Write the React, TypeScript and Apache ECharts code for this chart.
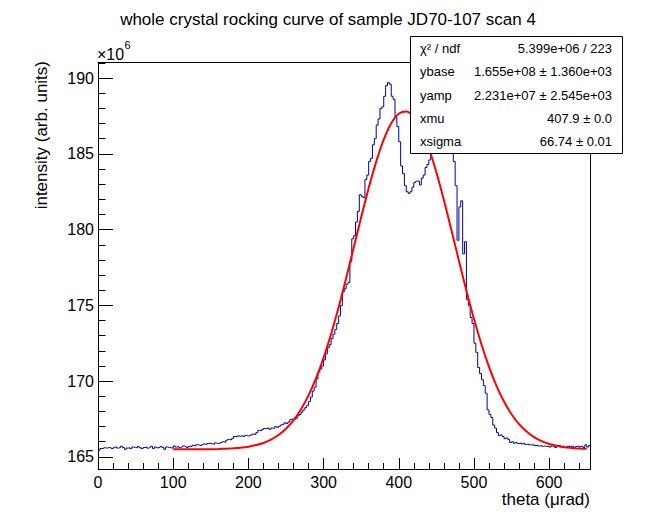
import { useEffect, useRef } from 'react'
import * as echarts from 'echarts'

const FONT = '"Liberation Sans", Arial, Helvetica, sans-serif'

// histogram: bins of 2.5 urad starting at 0, contents in units of 10^6
const binStart = 0
const binWidth = 2.5
const counts = [
  165.42, 165.55, 165.55, 165.60, 165.58, 165.62, 165.60, 165.55, 165.60, 165.65,
  165.58, 165.62, 165.70, 165.62, 165.50, 165.58, 165.60, 165.55, 165.65, 165.62,
  165.60, 165.68, 165.60, 165.55, 165.62, 165.65, 165.58, 165.62, 165.70, 165.55,
  165.65, 165.60, 165.62, 165.68, 165.62, 165.50, 165.65, 165.62, 165.60, 165.58,
  165.72, 165.65, 165.68, 165.62, 165.66, 165.72, 165.68, 165.62, 165.70, 165.68,
  165.76, 165.72, 165.80, 165.78, 165.74, 165.80, 165.85, 165.82, 165.88, 165.90,
  165.86, 165.84, 165.92, 165.88, 165.90, 165.95, 166.00, 165.96, 166.10, 166.15,
  166.12, 166.20, 166.35, 166.32, 166.38, 166.36, 166.40, 166.35, 166.42, 166.38,
  166.40, 166.45, 166.50, 166.48, 166.60, 166.75, 166.72, 166.80, 166.88, 166.85,
  166.90, 166.82, 166.90, 166.88, 167.00, 166.95, 167.02, 167.10, 167.15, 167.25,
  167.20, 167.30, 167.45, 167.50, 167.48, 167.55, 167.72, 167.80, 167.95, 168.10,
  168.25, 168.40, 168.65, 168.95, 169.35, 169.60, 170.15, 170.60, 170.80, 171.00,
  171.40, 171.80, 172.20, 172.40, 172.80, 173.10, 173.40, 173.80, 174.30, 175.00,
  175.90, 176.10, 176.40, 176.50, 177.90, 179.40, 179.60, 180.50, 181.20, 182.30,
  182.20, 182.10, 183.30, 183.60, 184.50, 184.70, 185.60, 186.00, 186.90, 187.30,
  188.00, 188.10, 188.80, 189.50, 189.70, 189.60, 188.80, 188.60, 187.40, 186.80,
  185.80, 184.20, 183.70, 182.90, 182.50, 182.40, 182.50, 182.80, 183.10, 183.20,
  183.20, 182.95, 183.40, 183.60, 184.10, 184.30, 184.60, 185.20, 185.80, 186.20,
  186.60, 186.90, 187.20, 187.40, 187.50, 187.30, 187.00, 186.60, 186.00, 184.50,
  182.90, 179.30, 181.50, 181.90, 178.40, 179.20, 175.40, 175.00, 174.20, 173.80,
  172.50, 171.90, 170.90, 170.50, 170.10, 169.70, 169.20, 168.10, 167.80, 167.60,
  167.10, 166.90, 166.60, 166.40, 166.45, 166.35, 166.20, 166.25, 166.15, 165.95,
  166.00, 165.90, 165.95, 165.88, 165.92, 165.85, 165.90, 165.82, 165.85, 165.80,
  165.78, 165.80, 165.75, 165.78, 165.72, 165.75, 165.70, 165.72, 165.68, 165.70,
  165.65, 165.72, 165.68, 165.62, 165.70, 165.75, 165.65, 165.70, 165.62, 165.68,
  165.72, 165.65, 165.70, 165.60, 165.68, 165.72, 165.65, 165.70, 165.62, 165.80,
  165.65, 165.75,
]

// fitted gaussian
const fitX = [
  100, 110, 120, 130, 140, 150, 160, 170, 180, 190,
  200, 210, 220, 230, 240, 250, 260, 270, 280, 290,
  300, 310, 320, 330, 340, 350, 360, 370, 380, 390,
  400, 410, 420, 430, 440, 450, 460, 470, 480, 490,
  500, 510, 520, 530, 540, 550, 560, 570, 580, 590,
  600, 610, 620, 630, 640, 650,
]
const fitY = [
  165.50, 165.50, 165.50, 165.50, 165.51, 165.51, 165.52, 165.54, 165.57, 165.61,
  165.67, 165.78, 165.92, 166.14, 166.44, 166.86, 167.41, 168.14, 169.06, 170.19,
  171.54, 173.11, 174.87, 176.79, 178.80, 180.81, 182.75, 184.49, 185.94, 187.02,
  187.65, 187.80, 187.45, 186.62, 185.37, 183.79, 181.95, 179.97, 177.95, 175.97,
  174.11, 172.42, 170.94, 169.69, 168.65, 167.81, 167.16, 166.67, 166.30, 166.04,
  165.85, 165.73, 165.64, 165.59, 165.55, 165.53,
]

const statLabels = ['χ² / ndf', 'ybase', 'yamp', 'xmu', 'xsigma']
const statValues = [
  '5.399e+06 / 223',
  '1.655e+08 ± 1.360e+03',
  '2.231e+07 ± 2.545e+03',
  '407.9 ± 0.0',
  '66.74 ± 0.01',
]

const title = 'whole crystal rocking curve of sample JD70-107 scan 4'
const xTitle = 'theta (μrad)'
const yTitle = 'intensity (arb. units)'

const xMin = 0
const xMax = 655
const yMin = 164.2
const yMax = 191.03

function txt(text: string, x: number, y: number, size: number, align = 'left', extra: any = {}) {
  return {
    type: 'text',
    x,
    y,
    z: 110,
    silent: true,
    ...extra,
    style: {
      text,
      font: `${size}px ${FONT}`,
      fill: '#000',
      textAlign: align,
      textVerticalAlign: 'middle',
    },
  }
}

export default function App() {
  const chartRef = useRef<HTMLDivElement>(null)

  useEffect(() => {
    document.body.style.margin = '0'
    if (!chartRef.current) return
    const chart = echarts.init(chartRef.current, null, { renderer: 'svg' })

    const histData = counts.map((v, i) => [binStart + i * binWidth, v])
    histData.push([binStart + counts.length * binWidth, counts[counts.length - 1]])
    const fitData = fitX.map((x, i) => [x, fitY[i]])

    const line = { show: true, onZero: false, lineStyle: { color: '#000', width: 1 } }
    const tick = (length: number) => ({
      show: true,
      inside: true,
      length,
      lineStyle: { color: '#000', width: 1 },
    })
    const frameOnly = {
      axisLine: line,
      axisTick: { show: false },
      axisLabel: { show: false },
      splitLine: { show: false },
    }

    const boxTop = 36.5
    const rowH = 23.4
    const stats: any[] = []
    statLabels.forEach((s, i) => {
      stats.push(txt(s, 420, boxTop + rowH * (i + 0.5), 13))
      stats.push(txt(statValues[i], 612, boxTop + rowH * (i + 0.5), 13, 'right'))
    })

    chart.setOption({
      animation: false,
      backgroundColor: '#fff',
      textStyle: { fontFamily: FONT },
      grid: {
        left: 98,
        right: 65.5,
        top: 62.5,
        bottom: 53,
        show: false,
        containLabel: false,
        outerBoundsMode: 'none',
      },
      xAxis: [
        {
          type: 'value',
          position: 'bottom',
          min: xMin,
          max: xMax,
          interval: 100,
          axisLine: line,
          axisTick: tick(11),
          minorTick: { show: false },
          axisLabel: { color: '#000', fontSize: 16, fontFamily: FONT, margin: 5, showMaxLabel: false },
          splitLine: { show: false },
        },
        {
          // minor ticks every 20
          type: 'value',
          position: 'bottom',
          min: xMin,
          max: xMax,
          interval: 20,
          axisLine: { show: false },
          axisTick: tick(6),
          axisLabel: { show: false },
          splitLine: { show: false },
        },
        { type: 'value', position: 'top', min: xMin, max: xMax, ...frameOnly },
      ],
      yAxis: [
        {
          type: 'value',
          position: 'left',
          min: yMin,
          max: yMax,
          splitNumber: 5,
          axisLine: line,
          axisTick: tick(15),
          axisLabel: {
            color: '#000',
            fontSize: 16,
            fontFamily: FONT,
            margin: 4,
            showMinLabel: false,
            showMaxLabel: false,
          },
          splitLine: { show: false },
        },
        {
          // minor ticks every 1
          type: 'value',
          position: 'left',
          min: yMin,
          max: yMax,
          splitNumber: 27,
          axisLine: { show: false },
          axisTick: tick(7.5),
          axisLabel: { show: false },
          splitLine: { show: false },
        },
        { type: 'value', position: 'right', min: yMin, max: yMax, ...frameOnly },
      ],
      series: [
        {
          name: 'data',
          type: 'line',
          xAxisIndex: 0,
          yAxisIndex: 0,
          step: 'end',
          symbol: 'none',
          silent: true,
          z: 10,
          lineStyle: { color: '#000099', width: 1 },
          itemStyle: { color: '#000099' },
          data: histData,
        },
        {
          name: 'fit',
          type: 'line',
          xAxisIndex: 0,
          yAxisIndex: 0,
          smooth: 0.3,
          symbol: 'none',
          silent: true,
          z: 11,
          lineStyle: { color: '#ff0000', width: 2 },
          itemStyle: { color: '#ff0000' },
          data: fitData,
        },
      ],
      graphic: [
        txt(title, 328, 19.5, 17, 'center'),
        txt(xTitle, 590, 499, 17, 'right'),
        txt(yTitle, 41, 61, 17, 'right', { rotation: Math.PI / 2 }),
        txt('×10', 97, 54, 16),
        txt('6', 124.5, 45, 11),
        {
          type: 'rect',
          z: 105,
          silent: true,
          shape: { x: 410.5, y: boxTop, width: 212, height: 117 },
          style: { fill: '#fff', stroke: '#000', lineWidth: 1 },
        },
        ...stats,
      ],
    })

    return () => {
      chart.dispose()
    }
  }, [])

  return <div ref={chartRef} style={{ width: 656, height: 522 }} />
}
